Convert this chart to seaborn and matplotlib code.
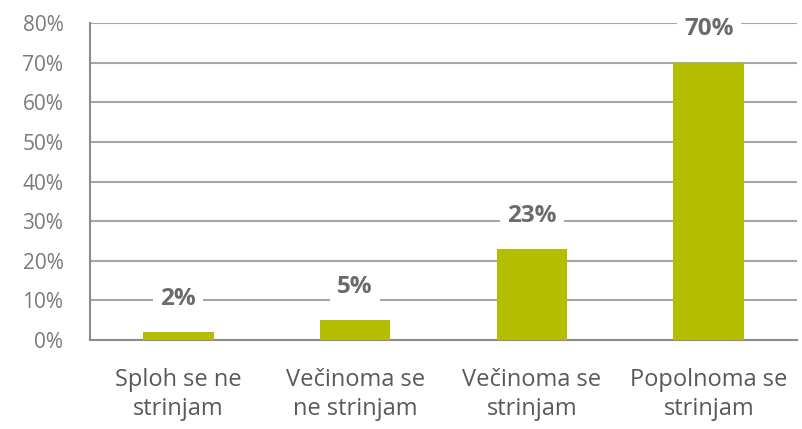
import matplotlib
matplotlib.use("Agg")
import matplotlib.pyplot as plt
import pandas as pd
import seaborn as sns

categories = ["Sploh se ne\nstrinjam", "Večinoma se\nne strinjam",
              "Večinoma se\nstrinjam", "Popolnoma se\nstrinjam"]
values = [2, 5, 23, 70]
labels = ["2%", "5%", "23%", "70%"]
yticks = [0, 10, 20, 30, 40, 50, 60, 70, 80]

df = pd.DataFrame({"cat": categories, "val": values})

sns.set_style("white")
plt.rcParams["font.family"] = ["Open Sans", "DejaVu Sans"]

fig = plt.figure(figsize=(8.02, 4.29), dpi=100)
ax = fig.add_axes([0.112, 0.2075, 0.882, 0.7385])

sns.barplot(data=df, x="cat", y="val", color="#b5bd00", width=0.4,
            saturation=1, ax=ax, zorder=3, edgecolor="none")

ax.set_ylim(0, 80)
ax.set_yticks(yticks)
ax.set_yticklabels([f"{t}%" for t in yticks], fontsize=15, color="#7a7a7a")
ax.yaxis.grid(True, color="#a6a6a6", linewidth=1.5, zorder=0)
ax.tick_params(axis="y", length=9, width=1.5, color="#8c8c8c", pad=10)
ax.tick_params(axis="x", length=0, pad=20, labelsize=17, labelcolor="#595959")
for t in ax.get_xticklabels():
    t.set_linespacing(1.3)
ax.set_xlabel("")
ax.set_ylabel("")

for s in ["top", "right"]:
    ax.spines[s].set_visible(False)
for s in ["left", "bottom"]:
    ax.spines[s].set_color("#8c8c8c")
    ax.spines[s].set_linewidth(1.5)

for i, (v, lab) in enumerate(zip(values, labels)):
    ax.annotate(lab, (i, v), xytext=(0, 24), textcoords="offset points",
                ha="center", va="center", fontsize=17.5, fontweight="bold",
                color="#6b6b6b",
                bbox=dict(boxstyle="square,pad=0.3", fc="white", ec="none"),
                zorder=5)

fig.savefig("out.png", dpi=100)
